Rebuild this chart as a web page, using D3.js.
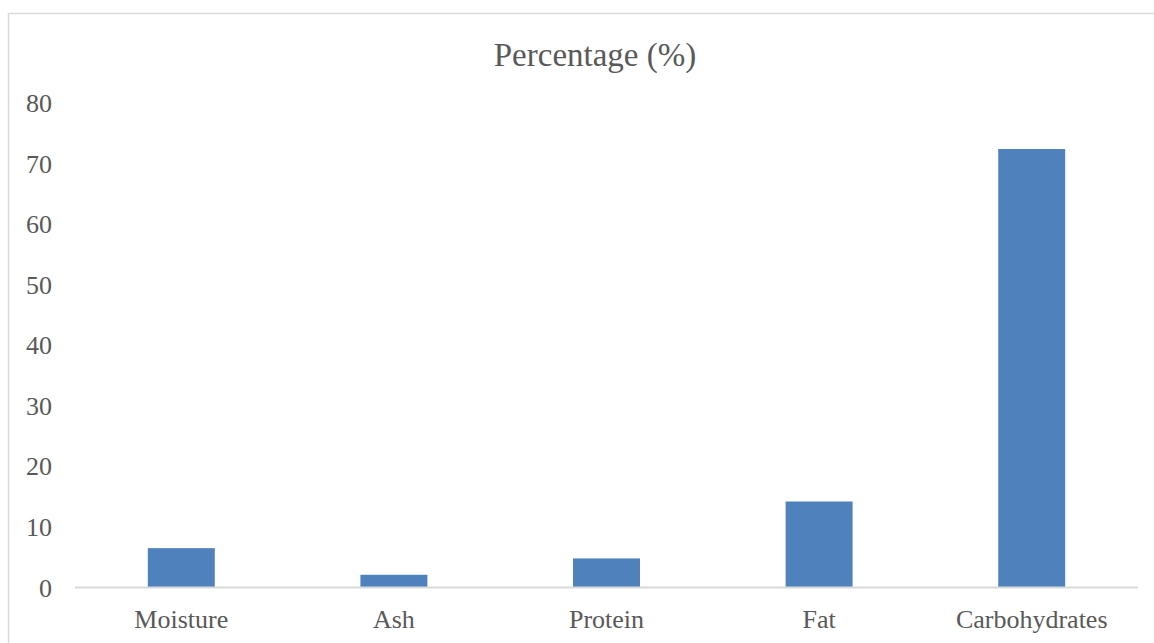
<!DOCTYPE html>
<html>
<head>
<meta charset="utf-8">
<script src="https://cdn.jsdelivr.net/npm/d3@7"></script>
<style>
  html, body { margin: 0; padding: 0; background: #fff; }
  svg { display: block; }
</style>
</head>
<body>
<svg id="chart" width="1154" height="643"></svg>
<script>
const categories = ["Moisture", "Ash", "Protein", "Fat", "Carbohydrates"];
const values = [6.5, 2.1, 4.8, 14.2, 72.4];
const yTicks = [0, 10, 20, 30, 40, 50, 60, 70, 80];
const title = "Percentage (%)";

const svg = d3.select("#chart");
const font = "'Liberation Serif', 'Times New Roman', serif";
const textColor = "#595959";

// chart frame
svg.append("rect")
  .attr("x", 8.5).attr("y", 13.5)
  .attr("width", 1200).attr("height", 700)
  .attr("fill", "#fff").attr("stroke", "#d9d9d9").attr("stroke-width", 1.5);

const x = d3.scaleBand().domain(categories).range([75, 1138]).paddingInner(0.685).paddingOuter(0.3425);
const y = d3.scaleLinear().domain([0, 80]).range([587.5, 103]);

// title
svg.append("text")
  .attr("x", 595).attr("y", 66)
  .attr("text-anchor", "middle")
  .attr("font-family", font).attr("font-size", 33)
  .attr("fill", textColor)
  .text(title);

// y axis labels
const yAxis = d3.axisLeft(y).tickValues(yTicks).tickSize(0).tickPadding(0);
const gy = svg.append("g").attr("transform", "translate(52,0)").call(yAxis);
gy.select(".domain").remove();
gy.selectAll("text")
  .attr("font-family", font).attr("font-size", 26)
  .attr("fill", textColor).attr("dy", "0.33em");

// bars
svg.append("g").selectAll("rect")
  .data(categories)
  .join("rect")
  .attr("x", d => x(d))
  .attr("width", x.bandwidth())
  .attr("y", (d, i) => y(values[i]))
  .attr("height", (d, i) => y(0) - y(values[i]))
  .attr("fill", "#4f81bd");

// x axis
const xAxis = d3.axisBottom(x).tickSize(0).tickPadding(0);
const gx = svg.append("g").attr("transform", `translate(0,${y(0)})`).call(xAxis);
gx.select(".domain").attr("stroke", "#d9d9d9").attr("stroke-width", 2)
  .attr("d", `M75,0H1138`);
gx.selectAll("text")
  .attr("font-family", font).attr("font-size", 26)
  .attr("fill", textColor).attr("dy", 0).attr("y", 40.5);
</script>
</body>
</html>
